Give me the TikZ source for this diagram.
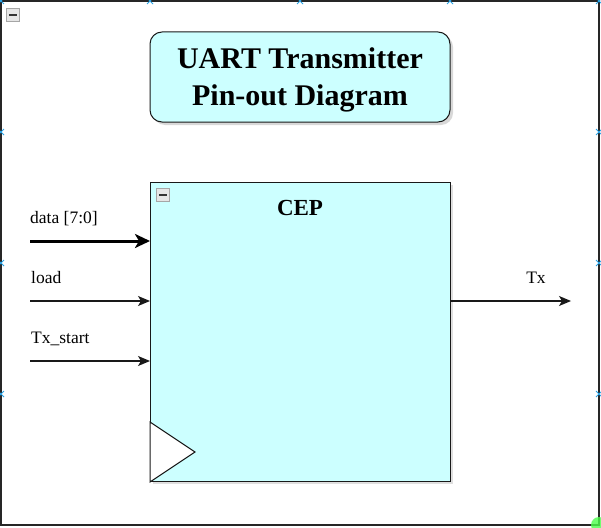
\documentclass[tikz,border=0pt]{standalone}
\usepackage{fontspec}
\setmainfont{Liberation Serif}
\usetikzlibrary{arrows.meta,shadows}
\definecolor{boxfill}{HTML}{CCFFFF}
\definecolor{selblue}{HTML}{29A3E6}
\tikzset{
  box/.style={draw=black!90, line width=1pt, fill=boxfill},
  wire/.style={draw=black!90, line width=1.2pt, -{Stealth[length=12pt,width=10pt,inset=3pt]}},
  bus/.style={draw=black, line width=3pt, -{Stealth[length=15pt,width=14pt,inset=4pt]}},
  lbl/.style={font=\fontsize{17.5}{20}\selectfont, anchor=base west, inner sep=0pt},
  mini/.style={draw=black!35, line width=1pt, fill=black!10, minimum size=13pt, inner sep=0pt},
  selx/.style={draw=selblue, line width=0.9pt}
}
\newcommand{\selmark}[2]{\draw[selx] (#1-3,#2-3) -- (#1+3,#2+3) (#1-3,#2+3) -- (#1+3,#2-3);}
\begin{document}
\begin{tikzpicture}[x=1pt,y=-1pt]
\useasboundingbox (0,0) rectangle (601,527);
\fill[white] (0,0) rectangle (601,527);
% outer frame
\draw[black!85, line width=1.2pt] (1,1) rectangle (599,525);
\fill[green!70!white, opacity=0.8] (599,525) circle (8);
% selection marks
\foreach \x in {1,150,300,450,599} {\selmark{\x}{1}}
\foreach \y in {132,263,394} {\selmark{1}{\y}\selmark{599}{\y}}
% collapse icons
\node[mini] (m1) at (13,15) {};
\draw[black!80, line width=1.8pt] (9,15) -- (17,15);
% title
\node[box, rounded corners=12pt, minimum width=300pt, minimum height=90pt,
      drop shadow={shadow xshift=3pt, shadow yshift=-3pt, opacity=0.3}] (title) at (300,77) {};
\node[align=center, font=\bfseries\fontsize{30}{37}\selectfont] (titletext) at (300,79.5)
      {UART Transmitter\\Pin-out Diagram};
% CEP block
\node[box, minimum width=300pt, minimum height=299pt, inner sep=0pt,
      drop shadow={shadow xshift=3pt, shadow yshift=-3pt, opacity=0.25}] (cep) at (300,331.5) {};
\node[font=\bfseries\fontsize{23}{26}\selectfont, anchor=base] (ceplbl) at (300,215) {CEP};
\node[mini] (m2) at (163,195) {};
\draw[black!80, line width=1.8pt] (159,195) -- (167,195);
% clock triangle
\draw[fill=white, draw=black!90, line width=1pt] (150,422) -- (195,452) -- (150,482) -- cycle;
% inputs
\coordinate (d0) at (30,241);
\coordinate (d1) at (150,241);
\coordinate (l0) at (30,301);
\coordinate (l1) at (150,301);
\coordinate (s0) at (30,361);
\coordinate (s1) at (150,361);
\coordinate (t0) at (450,301);
\coordinate (t1) at (571,301);
\draw[bus] (d0) -- (d1);
\draw[wire] (l0) -- (l1);
\draw[wire] (s0) -- (s1);
\draw[wire] (t0) -- (t1);
\node[lbl] (dl) at (30,223) {data [7:0]};
\node[lbl] (ll) at (31,283) {load};
\node[lbl] (sl) at (31,343) {Tx\_start};
\node[lbl, anchor=base] (tl) at (536,283) {Tx};
\end{tikzpicture}
\end{document}
